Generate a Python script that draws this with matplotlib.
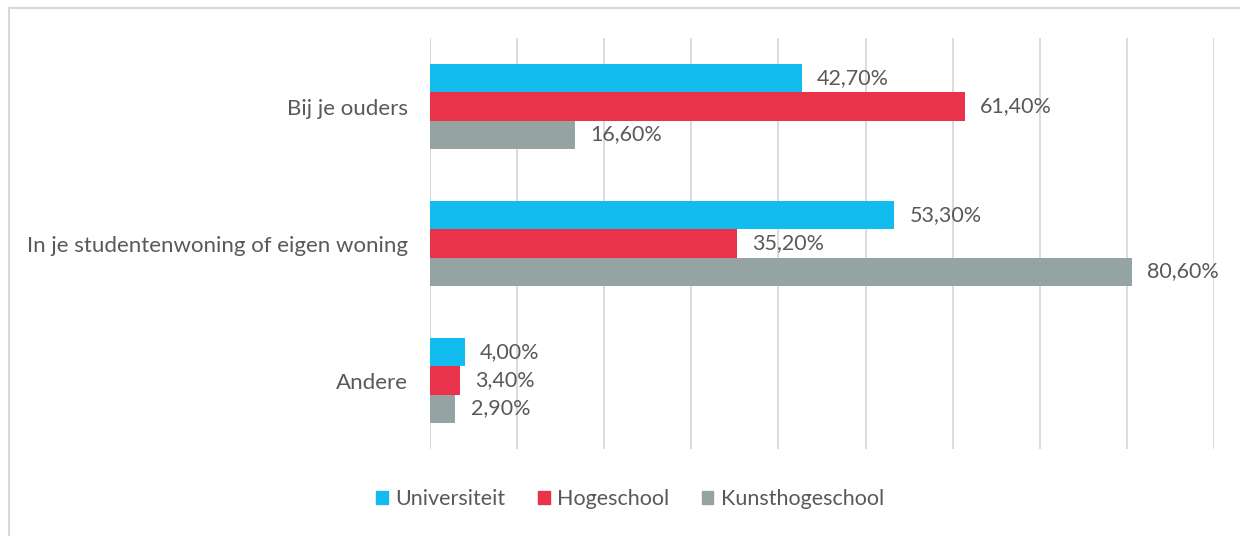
import matplotlib.pyplot as plt
import numpy as np
from matplotlib.lines import Line2D

plt.rcParams['font.family'] = ['Lato', 'DejaVu Sans']

categories = ["Bij je ouders", "In je studentenwoning of eigen woning", "Andere"]
series = ["Universiteit", "Hogeschool", "Kunsthogeschool"]
universiteit = [42.7, 53.3, 4.0]
hogeschool = [61.4, 35.2, 3.4]
kunsthogeschool = [16.6, 80.6, 2.9]
colors = ["#12BCEE", "#E8334A", "#95A3A3"]

fig = plt.figure(figsize=(12.4, 5.36), dpi=100)
ax = fig.add_axes([430 / 1240, 1 - 449 / 536, (1214 - 430) / 1240, (449 - 38) / 536])

y = np.arange(len(categories))
h = 0.205
text_col = "#595959"
for i, (name, vals) in enumerate(zip(series, [universiteit, hogeschool, kunsthogeschool])):
    pos = y + (i - 1) * h
    ax.barh(pos, vals, height=h, color=colors[i], label=name, zorder=2)
    for p, v in zip(pos, vals):
        ax.annotate(f"{v:.2f}%".replace('.', ','), (v, p), xytext=(11, 0),
                    textcoords='offset points', va='center', ha='left',
                    fontsize=15.5, color=text_col)

ax.set_xlim(0, 90)
ax.set_ylim(2.5, -0.5)
ax.set_xticks(np.arange(0, 91, 10))
ax.set_xticklabels([])
ax.tick_params(axis='x', length=0)
ax.tick_params(axis='y', length=0, pad=16, labelsize=16, labelcolor=text_col)
ax.set_yticks(y)
ax.set_yticklabels(categories)
ax.grid(axis='x', color='#D9D9D9', linewidth=1.3, zorder=0)
for s in ax.spines.values():
    s.set_visible(False)

handles = [plt.Rectangle((0, 0), 1, 1, color=c) for c in colors]
fig.legend(handles, series, loc='center', bbox_to_anchor=(630 / 1240, 1 - 499 / 536),
           ncol=3, frameon=False, fontsize=15.5, handlelength=0.55, handleheight=0.55,
           handletextpad=0.35, columnspacing=1.5, labelcolor=text_col)

# outer border (left and top only visible)
fig.add_artist(Line2D([9 / 1240, 9 / 1240], [0, 1 - 8 / 536], color='#D9D9D9', lw=1.5))
fig.add_artist(Line2D([9 / 1240, 1], [1 - 8 / 536, 1 - 8 / 536], color='#D9D9D9', lw=1.5))

fig.savefig("out.png", dpi=100)
